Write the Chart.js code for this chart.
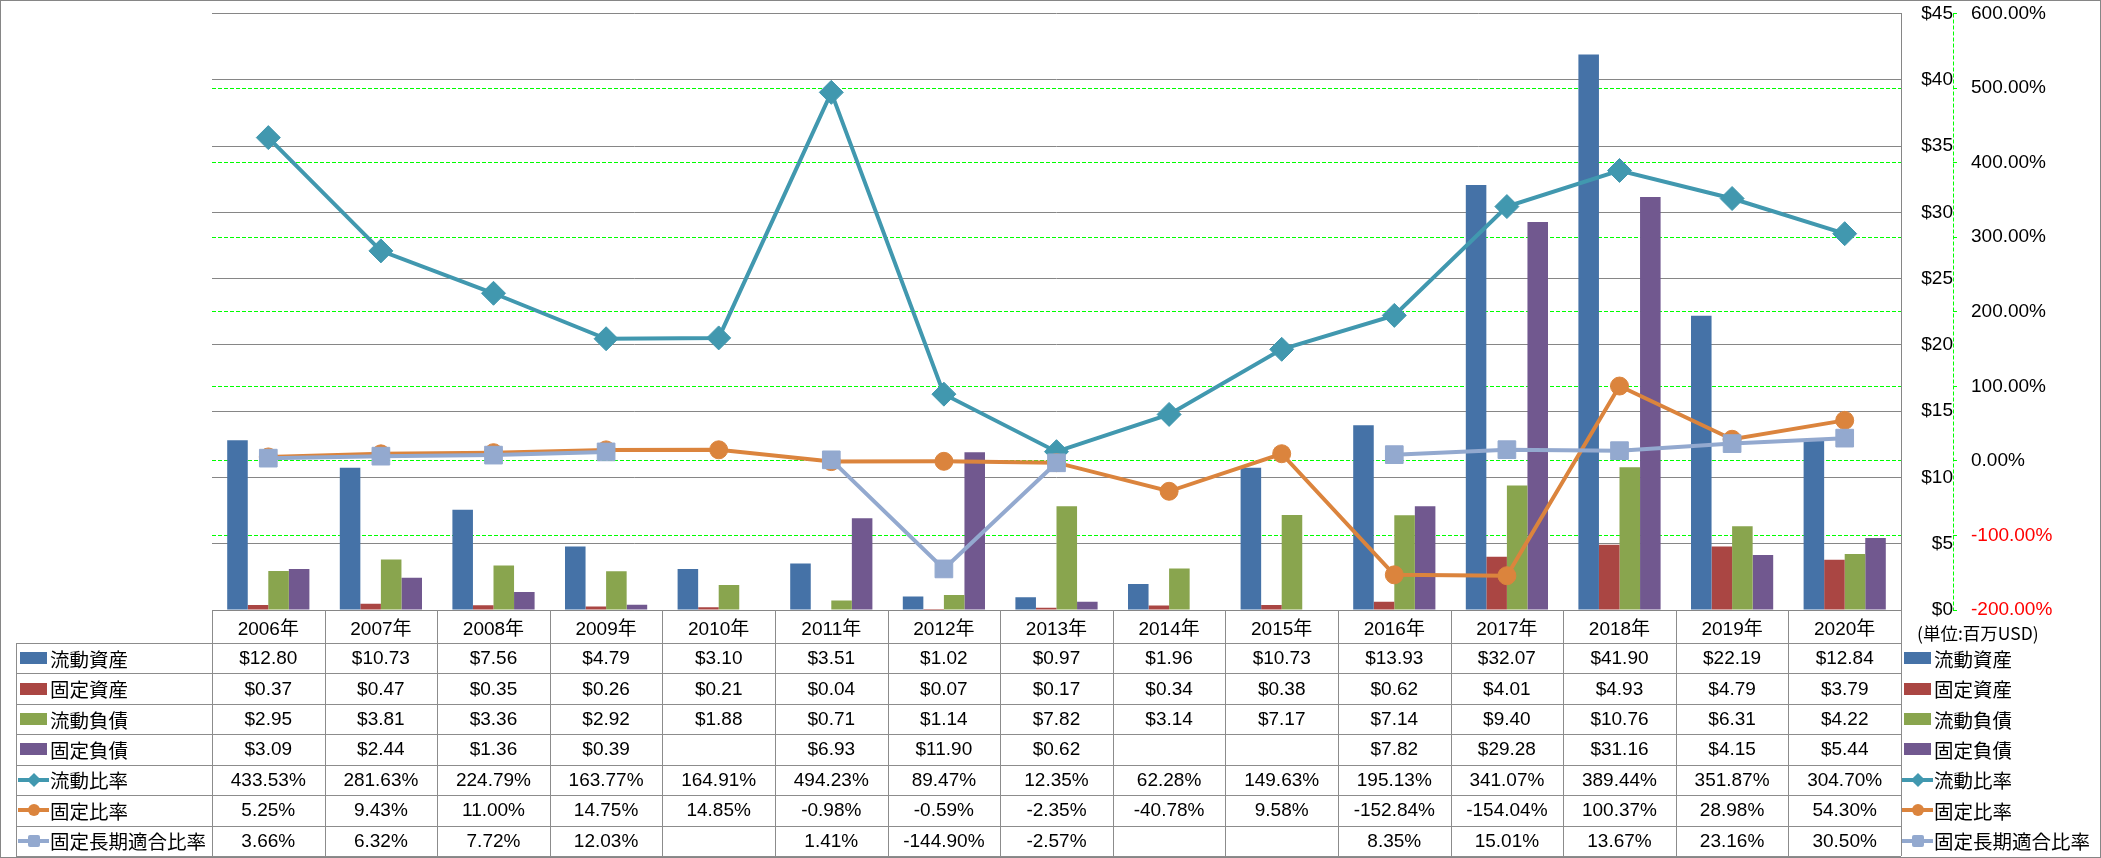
<!DOCTYPE html>
<html>
<head>
<meta charset="utf-8">
<script src="https://cdn.jsdelivr.net/npm/chart.js@4.4.0/dist/chart.umd.min.js"></script>
<style>
  html, body { margin: 0; padding: 0; background: #fff; overflow: hidden; }
  #wrap { position: relative; width: 2101px; height: 858px; }
  #c { position: absolute; left: 0; top: 0; }
  #frame { position: absolute; left: 0; top: 0; width: 2101px; height: 858px; box-sizing: border-box; border: 1px solid #868686; pointer-events: none; }
  .ln { position: absolute; background: #8c8c8c; }
  .cell { position: absolute; display: flex; align-items: center; justify-content: center;
          font-family: "Liberation Sans Narrow", "Liberation Sans", "Noto Sans CJK JP", sans-serif;
          font-size: 19px; color: #000; white-space: nowrap; }
  .lab { position: absolute; display: flex; align-items: center; white-space: nowrap;
         font-family: "Noto Sans CJK JP", sans-serif; font-size: 19.5px; color: #000; }
  .sw { position: relative; width: 27px; height: 14px; margin-right: 3px; flex: none; }
  #unit { position: absolute; left: 1917px; top: 620px; font-family: "Noto Sans CJK JP", sans-serif; font-size: 17.5px; white-space: nowrap; }
</style>
</head>
<body>
<div id="wrap">
  <canvas id="c" width="2101" height="858"></canvas>
  <div id="tbl"></div>
  <div id="unit">(単位:百万USD)</div>
  <div id="frame"></div>
</div>
<script>
// ---- data (百万USD / %) ----
const years = ['2006年', '2007年', '2008年', '2009年', '2010年', '2011年', '2012年', '2013年',
  '2014年', '2015年', '2016年', '2017年', '2018年', '2019年', '2020年'];

const currentAssets = [12.80, 10.73, 7.56, 4.79, 3.10, 3.51, 1.02, 0.97, 1.96, 10.73, 13.93, 32.07, 41.90, 22.19, 12.84];
const fixedAssets = [0.37, 0.47, 0.35, 0.26, 0.21, 0.04, 0.07, 0.17, 0.34, 0.38, 0.62, 4.01, 4.93, 4.79, 3.79];
const currentLiab = [2.95, 3.81, 3.36, 2.92, 1.88, 0.71, 1.14, 7.82, 3.14, 7.17, 7.14, 9.40, 10.76, 6.31, 4.22];
const fixedLiab = [3.09, 2.44, 1.36, 0.39, null, 6.93, 11.90, 0.62, null, null, 7.82, 29.28, 31.16, 4.15, 5.44];

const currentRatio = [433.53, 281.63, 224.79, 163.77, 164.91, 494.23, 89.47, 12.35, 62.28, 149.63, 195.13, 341.07, 389.44, 351.87, 304.70];
const fixedRatio = [5.25, 9.43, 11.00, 14.75, 14.85, -0.98, -0.59, -2.35, -40.78, 9.58, -152.84, -154.04, 100.37, 28.98, 54.30];
const fixedLongRatio = [3.66, 6.32, 7.72, 12.03, null, 1.41, -144.90, -2.57, null, null, 8.35, 15.01, 13.67, 23.16, 30.50];

const usdTicks = { min: 0, max: 45, step: 5 };
const pctTicks = { min: -200, max: 600, step: 100 };

const GRID = '#868686';
const GREEN = '#00ff00';
const NUM_FONT = '"Liberation Sans Narrow", "Liberation Sans", sans-serif';

const series = [
  { label: '流動資産', data: currentAssets, color: '#4572A7', kind: 'bar', fmt: 'usd' },
  { label: '固定資産', data: fixedAssets, color: '#AA4643', kind: 'bar', fmt: 'usd' },
  { label: '流動負債', data: currentLiab, color: '#89A54E', kind: 'bar', fmt: 'usd' },
  { label: '固定負債', data: fixedLiab, color: '#71588F', kind: 'bar', fmt: 'usd' },
  { label: '流動比率', data: currentRatio, color: '#4198AF', kind: 'line', marker: 'rectRot', r: 12, fmt: 'pct', order: 3 },
  { label: '固定比率', data: fixedRatio, color: '#DB843D', kind: 'line', marker: 'circle', r: 9, fmt: 'pct', order: 2 },
  { label: '固定長期適合比率', data: fixedLongRatio, color: '#93A9CF', kind: 'line', marker: 'rect', r: 12.5, fmt: 'pct', order: 1 }
];

const datasets = series.map(s => s.kind === 'bar' ? {
  type: 'bar', label: s.label, data: s.data, backgroundColor: s.color,
  yAxisID: 'y', order: 10, categoryPercentage: 0.73, barPercentage: 1.0
} : {
  type: 'line', label: s.label, data: s.data, borderColor: s.color, backgroundColor: s.color,
  borderWidth: 4, pointStyle: s.marker, pointRadius: s.r, pointHoverRadius: s.r,
  pointBackgroundColor: s.color, pointBorderColor: s.color, pointBorderWidth: 1,
  yAxisID: 'y1', order: s.order, spanGaps: false, tension: 0
});

// dashed axis line for the % scale
const pctAxisLine = {
  id: 'pctAxisLine',
  afterDraw(chart) {
    const s = chart.scales.y1;
    const ctx = chart.ctx;
    ctx.save();
    ctx.strokeStyle = GREEN;
    ctx.lineWidth = 1;
    ctx.setLineDash([4, 2]);
    ctx.beginPath();
    ctx.moveTo(Math.round(s.left) + 0.5, s.top);
    ctx.lineTo(Math.round(s.left) + 0.5, s.bottom);
    ctx.stroke();
    ctx.restore();
  }
};

// keep the plot area where the layout padding puts it
function fixY(width) {
  return scale => {
    scale.width = width;
    scale.paddingTop = 0;
    scale.paddingBottom = 0;
  };
}

const chart = new Chart(document.getElementById('c'), {
  data: { labels: years, datasets },
  plugins: [pctAxisLine],
  options: {
    responsive: false,
    animation: false,
    devicePixelRatio: 1,
    layout: { padding: { left: 212, top: 13, right: 48, bottom: 248 } },
    plugins: { legend: { display: false }, tooltip: { enabled: false } },
    scales: {
      x: {
        type: 'category', offset: true,
        ticks: { display: false },
        grid: { display: false },
        border: { display: true, color: GRID, width: 1 },
        afterFit(scale) { scale.height = 0; scale.paddingLeft = 0; scale.paddingRight = 0; }
      },
      y: {
        position: 'right', min: usdTicks.min, max: usdTicks.max,
        ticks: {
          stepSize: usdTicks.step, crossAlign: 'far', padding: 16,
          color: '#000', font: { family: NUM_FONT, size: 19 },
          callback: v => '$' + v
        },
        grid: { color: GRID, drawTicks: false, lineWidth: 1 },
        border: { display: true, color: GRID, width: 1 },
        afterFit: fixY(52)
      },
      y1: {
        position: 'right', min: pctTicks.min, max: pctTicks.max,
        ticks: {
          stepSize: pctTicks.step, padding: 14,
          color: ctx => ctx.tick.value < 0 ? '#ff0000' : '#000',
          font: { family: NUM_FONT, size: 19 },
          callback: v => v.toFixed(2) + '%'
        },
        grid: {
          color: ctx => (ctx.tick && (ctx.tick.value === pctTicks.max || ctx.tick.value === pctTicks.min)) ? 'rgba(0,0,0,0)' : GREEN,
          tickColor: GREEN, tickLength: 4, lineWidth: 1
        },
        border: { display: false, dash: [4, 2] },
        afterFit: fixY(100)
      }
    }
  }
});

// ---- data table under the plot ----
(function buildTable() {
  const tbl = document.getElementById('tbl');
  const area = chart.chartArea;
  const xs = chart.scales.x;
  const colW = (area.right - area.left) / years.length;
  const legLeft = 16;
  const yearTop = area.bottom;
  const firstRow = 643;
  const bottom = 856;
  const rowH = (bottom - firstRow) / series.length;

  function line(x, y, w, h) {
    const d = document.createElement('div');
    d.className = 'ln';
    d.style.left = x + 'px'; d.style.top = y + 'px';
    d.style.width = w + 'px'; d.style.height = h + 'px';
    tbl.appendChild(d);
  }
  function cell(text, cx, top, h, w) {
    const d = document.createElement('div');
    d.className = 'cell';
    d.style.left = (cx - w / 2) + 'px'; d.style.top = top + 'px';
    d.style.width = w + 'px'; d.style.height = h + 'px';
    d.textContent = text;
    tbl.appendChild(d);
  }
  function swatch(s) {
    const sw = document.createElement('div');
    sw.className = 'sw';
    if (s.kind === 'bar') {
      sw.innerHTML = `<div style="position:absolute;left:0;top:1px;width:27px;height:12px;background:${s.color}"></div>`;
    } else {
      let m = '';
      if (s.marker === 'rectRot') m = `<div style="position:absolute;left:8.5px;top:2px;width:10px;height:10px;background:${s.color};transform:rotate(45deg)"></div>`;
      if (s.marker === 'circle') m = `<div style="position:absolute;left:7.5px;top:1px;width:12px;height:12px;border-radius:50%;background:${s.color}"></div>`;
      if (s.marker === 'rect') m = `<div style="position:absolute;left:7.5px;top:1px;width:12px;height:12px;border-radius:2px;background:${s.color}"></div>`;
      sw.innerHTML = `<div style="position:absolute;left:-2px;top:5px;width:31px;height:4px;background:${s.color}"></div>` + m;
    }
    return sw;
  }
  function legend(s, left, top, h) {
    const d = document.createElement('div');
    d.className = 'lab';
    d.style.left = left + 'px'; d.style.top = top + 'px'; d.style.height = h + 'px';
    d.appendChild(swatch(s));
    const t = document.createElement('span');
    t.textContent = s.label;
    d.appendChild(t);
    tbl.appendChild(d);
  }

  // year row
  years.forEach((y, i) => cell(y, xs.getPixelForValue(i), yearTop, firstRow - yearTop, colW));

  // series rows
  series.forEach((s, r) => {
    const top = firstRow + r * rowH;
    legend(s, legLeft + 4, top, rowH);
    legend(s, area.right + 3, top, rowH);
    s.data.forEach((v, i) => {
      if (v === null) return;
      const txt = s.fmt === 'usd' ? '$' + v.toFixed(2) : v.toFixed(2) + '%';
      cell(txt, xs.getPixelForValue(i), top, rowH, colW);
    });
  });

  // grid lines
  for (let r = 0; r <= series.length; r++) {
    line(legLeft, Math.round(firstRow + r * rowH), area.right - legLeft, 1);
  }
  for (let c = 0; c <= years.length; c++) {
    line(Math.round(area.left + c * colW), yearTop, 1, bottom - yearTop);
  }
  line(legLeft, firstRow, 1, bottom - firstRow);
})();
</script>
</body>
</html>
